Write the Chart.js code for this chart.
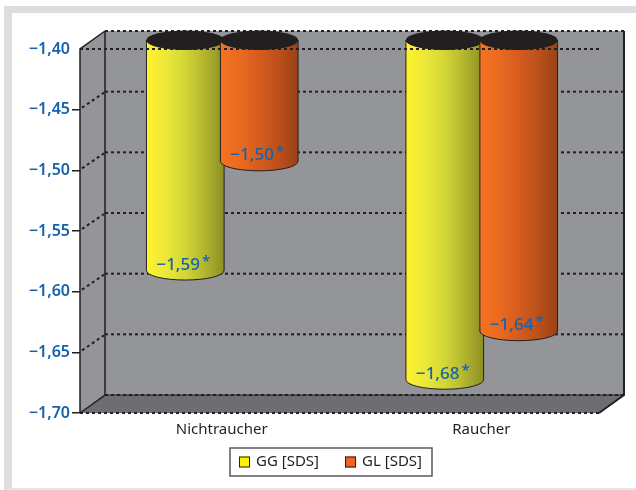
<!DOCTYPE html>
<html>
<head>
<meta charset="utf-8">
<script src="https://cdn.jsdelivr.net/npm/chart.js@4.4.1/dist/chart.umd.min.js"></script>
<style>
  html, body { margin: 0; padding: 0; background: #fff; overflow: hidden; width: 636px; height: 490px; }
  #frame {
    position: absolute; left: 4px; top: 6px; width: 632px; height: 484px;
    box-sizing: border-box; background: #fff;
    border-top: 7px solid #dcddde; border-left: 8px solid #dcddde; border-bottom: 2px solid #e6e7e8;
  }
  #chart { position: absolute; left: 0; top: 0; }
</style>
</head>
<body>
<div id="frame"></div>
<canvas id="chart" width="636" height="490"></canvas>
<script>
// --- data ---
const categories = ['Nichtraucher', 'Raucher'];
const seriesNames = ['GG [SDS]', 'GL [SDS]'];
const ggValues = [-1.59, -1.68];
const glValues = [-1.50, -1.64];
const axisMin = -1.70;
const axisMax = -1.40;
const axisStep = 0.05;

// --- styles ---
const BLUE = '#1563ad';
const INK = '#231f20';
const WALL = '#939598';
const FLOOR = '#6d6e71';
const DX = 25, DY = 18;           // depth of the 3D box
const barFills = [
    ['#fff22c', '#ece83a', '#d2d636', '#b3b52f', '#8d8f26'],
    ['#f47221', '#ea6a20', '#d65c1e', '#bb501b', '#9a4216']
];
const legendFills = ['#fff200', '#f26522'];

Chart.defaults.font.family = "'Noto Sans', sans-serif";

function fmt(v) {
    return '\u2212' + Math.abs(v).toFixed(2).replace('.', ',');
}

function dotted(ctx, x1, y1, x2, y2) {
    ctx.save();
    ctx.setLineDash([3, 3]);
    ctx.lineWidth = 2;
    ctx.strokeStyle = INK;
    ctx.beginPath();
    ctx.moveTo(x1, y1);
    ctx.lineTo(x2, y2);
    ctx.stroke();
    ctx.restore();
}

function solid(ctx, pts, w) {
    ctx.save();
    ctx.lineWidth = w || 1.5;
    ctx.strokeStyle = INK;
    ctx.beginPath();
    pts.forEach((p, i) => i ? ctx.lineTo(p[0], p[1]) : ctx.moveTo(p[0], p[1]));
    ctx.stroke();
    ctx.restore();
}

function cylinder(ctx, cx, yt, yb, rx, ry, stops) {
    const g = ctx.createLinearGradient(cx - rx, 0, cx + rx, 0);
    stops.forEach((c, i) => g.addColorStop(i / (stops.length - 1), c));
    ctx.beginPath();
    ctx.moveTo(cx - rx, yt);
    ctx.lineTo(cx - rx, yb);
    ctx.ellipse(cx, yb, rx, ry, 0, Math.PI, 0, true);
    ctx.lineTo(cx + rx, yt);
    ctx.ellipse(cx, yt, rx, ry, 0, 0, Math.PI, false);
    ctx.closePath();
    ctx.fillStyle = g;
    ctx.fill();
    ctx.lineWidth = 1;
    ctx.strokeStyle = INK;
    ctx.stroke();
    // dark top
    ctx.beginPath();
    ctx.ellipse(cx, yt, rx, ry, 0, 0, Math.PI * 2);
    ctx.fillStyle = INK;
    ctx.fill();
}

const box3d = {
    id: 'box3d',
    beforeDatasetsDraw(chart) {
        const { ctx, chartArea: a, scales: { y } } = chart;
        const L = a.left, R = a.right, T = a.top, B = a.bottom;
        ctx.save();
        // back wall
        ctx.fillStyle = WALL;
        ctx.fillRect(L + DX, T - DY, R - L, B - T);
        // left wall
        ctx.beginPath();
        ctx.moveTo(L, T); ctx.lineTo(L + DX, T - DY); ctx.lineTo(L + DX, B - DY); ctx.lineTo(L, B);
        ctx.closePath();
        ctx.fill();
        // floor
        ctx.fillStyle = FLOOR;
        ctx.beginPath();
        ctx.moveTo(L, B); ctx.lineTo(L + DX, B - DY); ctx.lineTo(R + DX, B - DY); ctx.lineTo(R, B);
        ctx.closePath();
        ctx.fill();

        // grid lines
        y.ticks.forEach(t => {
            const py = y.getPixelForValue(t.value);
            dotted(ctx, L + DX, py - DY, R + DX, py - DY);
            if (py > T + 1 && py < B - 1) dotted(ctx, L + 2, py - 2, L + DX - 1, py - DY + 1);
        });
        // edges
        solid(ctx, [[L, B], [L, T], [L + DX, T - DY]]);
        solid(ctx, [[L + DX, T - DY], [L + DX, B - DY], [L, B]]);
        solid(ctx, [[L + DX, B - DY], [R + DX, B - DY]], 1);
        solid(ctx, [[R + DX, T - DY], [R + DX, B - DY], [R, B]], 2);
        dotted(ctx, L, B, R, B);

        // cylinders
        const ry = 9.5;
        const labels = [];
        chart.data.datasets.forEach((ds, di) => {
            chart.getDatasetMeta(di).data.forEach((el, i) => {
                const cx = el.x + DX / 2;
                const yt = y.getPixelForValue(axisMax) - DY / 2;
                const yb = y.getPixelForValue(ds.data[i]) - DY / 2;
                const rx = el.width / 2;
                cylinder(ctx, cx, yt, yb, rx, ry, barFills[di]);
                labels.push({ cx, yb, v: ds.data[i] });
            });
        });

        // front top line
        dotted(ctx, L, T, R, T);

        // value labels
        labels.forEach(l => {
            ctx.font = "500 17px 'Noto Sans'";
            const txt = fmt(l.v);
            const w = ctx.measureText(txt).width;
            ctx.font = "500 15px 'Noto Sans'";
            const ws = ctx.measureText('*').width;
            const x0 = l.cx - 2 - (w + ws + 2) / 2;
            ctx.fillStyle = BLUE;
            ctx.textBaseline = 'alphabetic';
            ctx.textAlign = 'left';
            ctx.font = "500 17px 'Noto Sans'";
            ctx.fillText(txt, x0, l.yb - 1);
            ctx.font = "500 15px 'Noto Sans'";
            ctx.fillText('*', x0 + w + 2, l.yb - 5);
        });
        ctx.restore();
        return false;
    },
    afterDraw(chart) {
        const ctx = chart.ctx;
        const centerX = 331, top = 448, h = 28;
        ctx.save();
        ctx.font = "15px 'Noto Sans'";
        const widths = chart.data.datasets.map(ds => ctx.measureText(ds.label).width);
        const sq = 11, gap = 6, between = 26, padL = 9, padR = 10;
        const inner = widths.reduce((s, w) => s + sq + gap + w, 0) + between * (widths.length - 1);
        const left = centerX - (inner + padL + padR) / 2;
        ctx.fillStyle = '#fff';
        ctx.fillRect(left, top, inner + padL + padR, h);
        ctx.lineWidth = 1.5;
        ctx.strokeStyle = '#58595b';
        ctx.strokeRect(left, top, inner + padL + padR, h);
        let x = left + padL;
        const cy = top + h / 2;
        chart.data.datasets.forEach((ds, i) => {
            ctx.fillStyle = legendFills[i];
            ctx.fillRect(x, cy - sq / 2, sq, sq);
            ctx.lineWidth = 1;
            ctx.strokeStyle = INK;
            ctx.strokeRect(x + 0.5, cy - sq / 2 + 0.5, sq - 1, sq - 1);
            x += sq + gap;
            ctx.fillStyle = INK;
            ctx.textBaseline = 'middle';
            ctx.fillText(ds.label, x, cy);
            x += widths[i] + between;
        });
        ctx.restore();
    }
};

new Chart(document.getElementById('chart'), {
    type: 'bar',
    data: {
        labels: categories,
        datasets: [
            { label: seriesNames[0], data: ggValues, base: axisMax, backgroundColor: legendFills[0] },
            { label: seriesNames[1], data: glValues, base: axisMax, backgroundColor: legendFills[1] }
        ]
    },
    options: {
        responsive: false,
        animation: false,
        categoryPercentage: 0.57,
        barPercentage: 1.05,
        layout: { padding: { top: 49, right: 37, left: 0, bottom: 0 } },
        plugins: { legend: { display: false }, tooltip: { enabled: false } },
        scales: {
            y: {
                min: axisMin,
                max: axisMax,
                afterFit: s => { s.width = 80; },
                border: { display: false },
                grid: {
                    drawOnChartArea: false,
                    tickLength: 8,
                    lineWidth: 1.5,
                    color: c => (c.tick && Math.abs(c.tick.value - axisMax) < 1e-6) ? 'rgba(0,0,0,0)' : INK
                },
                ticks: {
                    stepSize: axisStep,
                    padding: 2,
                    color: BLUE,
                    font: { size: 16, weight: '600' },
                    callback: v => fmt(v)
                }
            },
            x: {
                afterFit: s => { s.height = 77; },
                border: { display: false },
                grid: { display: false, drawTicks: false },
                ticks: {
                    padding: 8,
                    labelOffset: 12,
                    color: INK,
                    font: { size: 15 }
                }
            }
        }
    },
    plugins: [box3d]
});
</script>
</body>
</html>
